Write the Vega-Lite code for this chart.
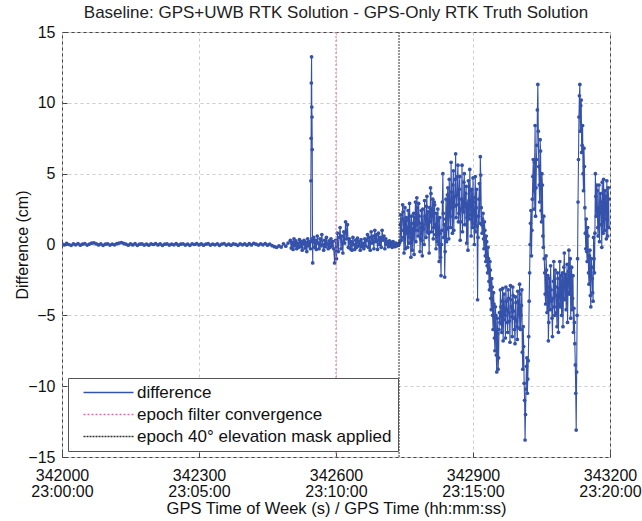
{
"$schema": "https://vega.github.io/schema/vega-lite/v6.json",
"width": 548, "height": 425,
"autosize": {"type": "none"},
"padding": {"left": 62, "top": 32, "right": 32, "bottom": 64},
"background": "white",
"config": {"font": "Liberation Sans", "view": {"stroke": "#444", "strokeWidth": 1}},
"title": {"text": "Baseline: GPS+UWB RTK Solution - GPS-Only RTK Truth Solution", "fontSize": 17, "fontWeight": "normal", "color": "#222", "offset": 2},
"datasets": {
"diff": [
{"t":342000,"d":0.05},{"t":342005,"d":-0.03},{"t":342010,"d":0.08},{"t":342015,"d":0.0},{"t":342020,"d":-0.06},{"t":342025,"d":0.04},{"t":342030,"d":-0.02},{"t":342035,"d":0.07},{"t":342040,"d":-0.05},{"t":342045,"d":0.02},
{"t":342050,"d":0.06},{"t":342055,"d":-0.04},{"t":342060,"d":0.03},{"t":342065,"d":0.09},{"t":342070,"d":0.12},{"t":342075,"d":0.05},{"t":342080,"d":-0.03},{"t":342085,"d":0.04},{"t":342090,"d":-0.06},{"t":342095,"d":0.02},
{"t":342100,"d":0.05},{"t":342105,"d":-0.04},{"t":342110,"d":0.03},{"t":342115,"d":-0.02},{"t":342120,"d":0.06},{"t":342125,"d":0.1},{"t":342130,"d":0.14},{"t":342135,"d":0.08},{"t":342140,"d":0.02},{"t":342145,"d":-0.05},
{"t":342150,"d":0.04},{"t":342155,"d":-0.03},{"t":342160,"d":0.06},{"t":342165,"d":-0.06},{"t":342170,"d":0.02},{"t":342175,"d":0.05},{"t":342180,"d":-0.04},{"t":342185,"d":0.03},{"t":342190,"d":-0.05},{"t":342195,"d":0.04},
{"t":342200,"d":0.0},{"t":342205,"d":0.06},{"t":342210,"d":-0.03},{"t":342215,"d":0.04},{"t":342220,"d":-0.06},{"t":342225,"d":0.02},{"t":342230,"d":0.05},{"t":342235,"d":-0.04},{"t":342240,"d":0.03},{"t":342245,"d":-0.02},
{"t":342250,"d":0.06},{"t":342255,"d":-0.05},{"t":342260,"d":0.02},{"t":342265,"d":0.05},{"t":342270,"d":-0.04},{"t":342275,"d":0.03},{"t":342280,"d":-0.06},{"t":342285,"d":0.04},{"t":342290,"d":0.0},{"t":342295,"d":0.06},
{"t":342300,"d":-0.03},{"t":342305,"d":0.04},{"t":342310,"d":-0.05},{"t":342315,"d":0.02},{"t":342320,"d":0.06},{"t":342325,"d":-0.04},{"t":342330,"d":0.03},{"t":342335,"d":-0.02},{"t":342340,"d":0.05},{"t":342345,"d":-0.06},
{"t":342350,"d":0.03},{"t":342355,"d":0.06},{"t":342360,"d":-0.04},{"t":342365,"d":0.02},{"t":342370,"d":-0.05},{"t":342375,"d":0.04},{"t":342380,"d":0.01},{"t":342385,"d":-0.06},{"t":342390,"d":0.05},{"t":342395,"d":-0.02},
{"t":342400,"d":0.04},{"t":342405,"d":-0.05},{"t":342410,"d":0.06},{"t":342415,"d":-0.03},{"t":342420,"d":0.08},{"t":342425,"d":0.02},{"t":342430,"d":-0.04},{"t":342435,"d":0.05},{"t":342440,"d":-0.02},{"t":342445,"d":0.07},
{"t":342450,"d":-0.05},{"t":342455,"d":0.03},{"t":342460,"d":-0.08},{"t":342465,"d":-0.15},{"t":342470,"d":-0.2},{"t":342475,"d":-0.1},{"t":342480,"d":-0.18},{"t":342485,"d":0.05},{"t":342490,"d":-0.12},{"t":342495,"d":0.1},
{"t":342500,"d":0.3},{"t":342502,"d":-0.25},{"t":342504,"d":0.15},{"t":342506,"d":-0.35},{"t":342508,"d":0.4},{"t":342510,"d":-0.1},{"t":342512,"d":0.25},{"t":342514,"d":-0.3},{"t":342516,"d":0.1},{"t":342518,"d":-0.2},
{"t":342520,"d":0.35},{"t":342522,"d":-0.15},{"t":342524,"d":0.2},{"t":342526,"d":-0.4},{"t":342528,"d":0.05},{"t":342530,"d":0.3},{"t":342532,"d":-0.25},{"t":342534,"d":0.15},{"t":342536,"d":-0.5},{"t":342538,"d":0.4},
{"t":342540,"d":-0.1},{"t":342542,"d":0.2},{"t":342544,"d":-0.3},
{"t":342544.5,"d":0.2},{"t":342545,"d":4.5},{"t":342545.5,"d":7.5},{"t":342546,"d":11.4},{"t":342546.5,"d":13.25},{"t":342547,"d":9.7},{"t":342547.5,"d":9.0},{"t":342548,"d":6.7},{"t":342548.5,"d":0.4},{"t":342549,"d":-1.3},{"t":342549.5,"d":0.2},
{"t":342551,"d":0.5},{"t":342553,"d":-0.2},{"t":342555,"d":0.3},{"t":342557,"d":-0.35},{"t":342559,"d":0.6},{"t":342561,"d":0.1},{"t":342563,"d":-0.3},{"t":342565,"d":0.4},{"t":342567,"d":-0.1},{"t":342569,"d":0.7},
{"t":342571,"d":0.0},{"t":342573,"d":-0.4},{"t":342575,"d":0.3},{"t":342577,"d":-0.15},{"t":342579,"d":0.5},{"t":342581,"d":0.05},{"t":342583,"d":-0.3},{"t":342585,"d":0.25},{"t":342587,"d":-0.2},{"t":342589,"d":0.4},
{"t":342591,"d":-0.1},{"t":342593,"d":0.2},{"t":342595,"d":-0.3},{"t":342597,"d":-1.3},{"t":342599,"d":0.3},{"t":342601,"d":-1.0},{"t":342603,"d":0.8},{"t":342605,"d":-0.5},{"t":342607,"d":0.5},{"t":342609,"d":1.2},
{"t":342611,"d":-0.3},{"t":342613,"d":0.6},{"t":342615,"d":-0.6},{"t":342617,"d":0.9},{"t":342619,"d":0.1},{"t":342621,"d":1.6},{"t":342623,"d":0.4},{"t":342625,"d":1.4},{"t":342627,"d":-0.2},
{"t":342629,"d":0.4},{"t":342631,"d":-0.3},{"t":342633,"d":0.2},{"t":342635,"d":-0.4},{"t":342637,"d":0.5},{"t":342639,"d":0.0},{"t":342641,"d":-0.35},{"t":342643,"d":0.3},{"t":342645,"d":-0.2},{"t":342647,"d":0.45},
{"t":342649,"d":-0.1},{"t":342651,"d":0.2},{"t":342653,"d":-0.4},{"t":342655,"d":0.35},{"t":342657,"d":-0.15},{"t":342659,"d":0.1},{"t":342661,"d":-0.3},{"t":342663,"d":0.4},{"t":342665,"d":-0.1},{"t":342667,"d":0.3},
{"t":342669,"d":0.7},{"t":342671,"d":-0.2},{"t":342673,"d":0.5},{"t":342675,"d":-0.4},{"t":342677,"d":0.9},{"t":342679,"d":0.1},{"t":342681,"d":0.6},{"t":342683,"d":-0.3},{"t":342685,"d":1.0},{"t":342687,"d":0.2},
{"t":342689,"d":0.7},{"t":342691,"d":-0.35},{"t":342693,"d":0.8},{"t":342695,"d":0.0},{"t":342697,"d":0.5},{"t":342699,"d":-0.2},{"t":342701,"d":1.0},{"t":342703,"d":0.3},{"t":342705,"d":0.6},{"t":342707,"d":-0.3},
{"t":342709,"d":0.4},{"t":342711,"d":0.0},{"t":342713,"d":0.2},{"t":342715,"d":-0.15},{"t":342717,"d":0.25},{"t":342719,"d":-0.1},{"t":342721,"d":0.15},{"t":342723,"d":-0.2},{"t":342725,"d":0.2},{"t":342727,"d":0.0},
{"t":342729,"d":-0.15},{"t":342731,"d":0.1},{"t":342733,"d":-0.1},{"t":342735,"d":0.05},{"t":342737,"d":-0.05},{"t":342739,"d":0.1},
{"t":342740,"d":0.2},{"t":342742,"d":2.1},{"t":342744,"d":1.0},{"t":342746,"d":2.8},{"t":342748,"d":0.5},{"t":342750,"d":1.6},{"t":342752,"d":-0.3},{"t":342754,"d":1.9},{"t":342756,"d":0.8},{"t":342758,"d":2.4},
{"t":342760,"d":0.1},{"t":342762,"d":1.3},{"t":342764,"d":-0.9},{"t":342766,"d":1.5},{"t":342768,"d":0.4},{"t":342770,"d":2.2},{"t":342772,"d":1.0},{"t":342774,"d":3.0},{"t":342776,"d":1.4},{"t":342778,"d":2.6},
{"t":342780,"d":0.6},{"t":342782,"d":2.0},{"t":342784,"d":-0.5},{"t":342786,"d":1.2},{"t":342788,"d":0.3},{"t":342790,"d":2.5},{"t":342792,"d":1.1},{"t":342794,"d":3.1},{"t":342796,"d":1.8},{"t":342798,"d":2.7},
{"t":342800,"d":0.9},{"t":342802,"d":2.3},{"t":342804,"d":-0.6},{"t":342806,"d":1.6},{"t":342808,"d":3.6},{"t":342810,"d":2.0},{"t":342812,"d":3.2},{"t":342814,"d":1.2},{"t":342816,"d":2.8},{"t":342818,"d":0.7},
{"t":342820,"d":2.2},{"t":342822,"d":0.2},{"t":342824,"d":1.7},{"t":342826,"d":-1.2},{"t":342828,"d":0.8},{"t":342830,"d":-2.2},
{"t":342832,"d":1.0},{"t":342834,"d":5.0},{"t":342836,"d":0.5},{"t":342838,"d":-2.3},{"t":342840,"d":1.8},{"t":342842,"d":0.2},{"t":342844,"d":3.5},{"t":342846,"d":1.2},{"t":342848,"d":4.6},{"t":342850,"d":2.0},
{"t":342852,"d":5.8},{"t":342854,"d":2.6},{"t":342856,"d":4.2},{"t":342858,"d":1.0},{"t":342860,"d":3.4},{"t":342862,"d":6.4},{"t":342864,"d":2.8},{"t":342866,"d":4.8},{"t":342868,"d":1.6},{"t":342870,"d":3.9},
{"t":342872,"d":0.3},{"t":342874,"d":2.5},{"t":342876,"d":5.6},{"t":342878,"d":3.0},{"t":342880,"d":4.4},{"t":342882,"d":1.4},{"t":342884,"d":3.6},{"t":342886,"d":0.1},{"t":342888,"d":2.9},{"t":342890,"d":4.5},
{"t":342892,"d":1.8},{"t":342894,"d":3.8},{"t":342896,"d":0.6},{"t":342898,"d":2.4},{"t":342900,"d":4.7},{"t":342902,"d":1.5},{"t":342904,"d":3.3},{"t":342906,"d":0.9},{"t":342908,"d":3.9},{"t":342910,"d":-3.9},
{"t":342912,"d":2.0},{"t":342914,"d":4.3},{"t":342916,"d":6.2},{"t":342918,"d":2.6},
{"t":342920,"d":0.8},{"t":342922,"d":2.2},{"t":342924,"d":-0.3},{"t":342926,"d":1.0},{"t":342928,"d":-1.2},{"t":342930,"d":0.2},{"t":342932,"d":-2.0},{"t":342934,"d":-1.0},{"t":342936,"d":-3.2},{"t":342938,"d":-1.8},
{"t":342940,"d":-4.6},{"t":342942,"d":-3.0},{"t":342944,"d":-6.0},{"t":342946,"d":-4.2},{"t":342948,"d":-7.5},{"t":342950,"d":-5.0},{"t":342952,"d":-9.0},{"t":342954,"d":-6.3},{"t":342956,"d":-8.0},{"t":342958,"d":-4.8},
{"t":342960,"d":-3.2},{"t":342962,"d":-5.6},{"t":342964,"d":-4.0},{"t":342966,"d":-6.8},{"t":342968,"d":-3.5},{"t":342970,"d":-5.0},{"t":342972,"d":-3.0},{"t":342974,"d":-4.6},{"t":342976,"d":-6.2},{"t":342978,"d":-3.8},
{"t":342980,"d":-5.4},{"t":342982,"d":-2.9},{"t":342984,"d":-4.4},{"t":342986,"d":-6.5},{"t":342988,"d":-3.6},{"t":342990,"d":-5.2},{"t":342992,"d":-7.0},{"t":342994,"d":-4.1},{"t":342996,"d":-5.8},{"t":342998,"d":-3.3},
{"t":343000,"d":-4.9},{"t":343002,"d":-2.8},{"t":343004,"d":-6.0},{"t":343006,"d":-4.3},{"t":343008,"d":-7.6},
{"t":343010,"d":-5.8},{"t":343012,"d":-9.8},{"t":343014,"d":-13.8},{"t":343016,"d":-10.2},{"t":343018,"d":-8.0},{"t":343020,"d":-9.5},
{"t":343022,"d":-6.5},{"t":343024,"d":-2.0},{"t":343026,"d":1.5},{"t":343028,"d":-0.8},{"t":343030,"d":3.2},{"t":343032,"d":6.0},{"t":343034,"d":2.5},{"t":343036,"d":8.4},{"t":343038,"d":4.0},{"t":343040,"d":7.0},
{"t":343042,"d":11.3},{"t":343044,"d":5.5},{"t":343046,"d":3.0},{"t":343048,"d":6.6},{"t":343050,"d":1.6},{"t":343052,"d":4.2},{"t":343054,"d":-0.2},
{"t":343056,"d":-1.0},{"t":343058,"d":-3.5},{"t":343060,"d":-0.8},{"t":343062,"d":-4.8},{"t":343064,"d":-2.2},{"t":343066,"d":-5.5},{"t":343068,"d":-3.0},{"t":343070,"d":-1.5},{"t":343072,"d":-4.0},{"t":343074,"d":-6.5},
{"t":343076,"d":-2.6},{"t":343078,"d":-4.4},{"t":343080,"d":-1.8},{"t":343082,"d":-3.6},{"t":343084,"d":-5.8},{"t":343086,"d":-2.4},{"t":343088,"d":-4.2},{"t":343090,"d":-1.2},{"t":343092,"d":-3.2},{"t":343094,"d":-5.0},
{"t":343096,"d":-2.0},{"t":343098,"d":-3.8},{"t":343100,"d":-0.6},{"t":343102,"d":-2.8},{"t":343104,"d":-4.6},{"t":343106,"d":-1.4},{"t":343108,"d":-3.4},{"t":343110,"d":-0.4},{"t":343112,"d":-2.6},{"t":343114,"d":-5.2},
{"t":343116,"d":-1.6},{"t":343118,"d":-3.8},{"t":343120,"d":-6.2},
{"t":343122,"d":-5.5},{"t":343124,"d":-8.5},{"t":343126,"d":-13.1},{"t":343128,"d":-5.0},{"t":343130,"d":3.0},{"t":343132,"d":9.0},{"t":343134,"d":11.3},{"t":343136,"d":9.8},{"t":343138,"d":6.5},{"t":343140,"d":8.4},
{"t":343142,"d":3.8},{"t":343144,"d":5.5},{"t":343146,"d":0.8},
{"t":343148,"d":1.8},{"t":343150,"d":-1.2},{"t":343152,"d":0.6},{"t":343154,"d":-2.8},{"t":343156,"d":-0.4},{"t":343158,"d":-4.4},{"t":343160,"d":-1.6},{"t":343162,"d":-3.4},{"t":343164,"d":0.5},{"t":343166,"d":-2.0},
{"t":343168,"d":5.0},{"t":343170,"d":2.0},{"t":343172,"d":3.8},{"t":343174,"d":0.6},{"t":343176,"d":4.2},{"t":343178,"d":1.4},{"t":343180,"d":3.0},{"t":343182,"d":-0.2},{"t":343184,"d":2.6},{"t":343186,"d":4.6},
{"t":343188,"d":1.0},{"t":343190,"d":3.4},{"t":343192,"d":0.4},{"t":343194,"d":2.8},{"t":343196,"d":4.0},{"t":343198,"d":1.2},
{"t":342741,"d":1.4},{"t":342743,"d":0.3},{"t":342745,"d":1.8},{"t":342747,"d":2.3},{"t":342749,"d":-0.6},{"t":342751,"d":2.6},{"t":342753,"d":0.9},{"t":342755,"d":1.2},{"t":342757,"d":-0.2},{"t":342759,"d":1.7},
{"t":342761,"d":2.9},{"t":342763,"d":0.5},{"t":342765,"d":2.0},{"t":342767,"d":-0.4},{"t":342769,"d":1.1},{"t":342771,"d":-0.7},{"t":342773,"d":1.9},{"t":342775,"d":0.2},{"t":342777,"d":3.3},{"t":342779,"d":1.0},
{"t":342781,"d":2.9},{"t":342783,"d":1.5},{"t":342785,"d":0.4},{"t":342787,"d":2.4},{"t":342789,"d":-0.8},{"t":342791,"d":1.4},{"t":342793,"d":0.0},{"t":342795,"d":2.0},{"t":342797,"d":0.5},{"t":342799,"d":3.4},
{"t":342801,"d":1.5},{"t":342803,"d":0.8},{"t":342805,"d":2.6},{"t":342807,"d":4.0},{"t":342809,"d":0.9},{"t":342811,"d":2.5},{"t":342813,"d":0.4},{"t":342815,"d":3.0},{"t":342817,"d":1.4},{"t":342819,"d":-0.3},
{"t":342821,"d":1.2},{"t":342823,"d":2.5},{"t":342825,"d":0.0},{"t":342827,"d":1.9},{"t":342829,"d":-0.9},
{"t":342831,"d":0.0},{"t":342833,"d":3.0},{"t":342835,"d":2.2},{"t":342837,"d":1.4},{"t":342839,"d":-0.5},{"t":342841,"d":3.2},{"t":342843,"d":1.1},{"t":342845,"d":4.0},{"t":342847,"d":0.4},{"t":342849,"d":3.1},
{"t":342851,"d":1.2},{"t":342853,"d":3.7},{"t":342855,"d":0.8},{"t":342857,"d":5.2},{"t":342859,"d":2.7},{"t":342861,"d":4.6},{"t":342863,"d":1.9},{"t":342865,"d":3.5},{"t":342867,"d":5.6},{"t":342869,"d":2.2},
{"t":342871,"d":4.8},{"t":342873,"d":1.6},{"t":342875,"d":3.2},{"t":342877,"d":0.9},{"t":342879,"d":2.3},{"t":342881,"d":5.0},{"t":342883,"d":2.7},{"t":342885,"d":4.1},{"t":342887,"d":1.9},{"t":342889,"d":-0.4},
{"t":342891,"d":3.1},{"t":342893,"d":5.3},{"t":342895,"d":2.1},{"t":342897,"d":3.9},{"t":342899,"d":1.2},{"t":342901,"d":3.0},{"t":342903,"d":0.0},{"t":342905,"d":4.8},{"t":342907,"d":2.6},{"t":342909,"d":1.3},
{"t":342911,"d":0.5},{"t":342913,"d":3.2},{"t":342915,"d":1.5},{"t":342917,"d":4.9},{"t":342919,"d":1.4},
{"t":342921,"d":1.8},{"t":342923,"d":0.4},{"t":342925,"d":1.6},{"t":342927,"d":-0.8},{"t":342929,"d":0.6},{"t":342931,"d":-1.5},{"t":342933,"d":-0.2},{"t":342935,"d":-2.6},{"t":342937,"d":-1.2},{"t":342939,"d":-3.8},
{"t":342941,"d":-2.4},{"t":342943,"d":-5.0},{"t":342945,"d":-3.4},{"t":342947,"d":-6.6},{"t":342949,"d":-4.4},{"t":342951,"d":-7.8},{"t":342953,"d":-5.2},{"t":342955,"d":-8.8},{"t":342957,"d":-6.0},{"t":342959,"d":-5.5},
{"t":342961,"d":-4.4},{"t":342963,"d":-6.2},{"t":342965,"d":-3.1},{"t":342967,"d":-5.3},{"t":342969,"d":-4.5},{"t":342971,"d":-6.6},{"t":342973,"d":-4.0},{"t":342975,"d":-5.5},{"t":342977,"d":-3.2},{"t":342979,"d":-4.8},
{"t":342981,"d":-6.9},{"t":342983,"d":-3.9},{"t":342985,"d":-5.1},{"t":342987,"d":-3.0},{"t":342989,"d":-4.7},{"t":342991,"d":-6.0},{"t":342993,"d":-3.7},{"t":342995,"d":-5.4},{"t":342997,"d":-6.7},{"t":342999,"d":-4.0},
{"t":343001,"d":-5.9},{"t":343003,"d":-3.5},{"t":343005,"d":-5.0},{"t":343007,"d":-3.2},{"t":343009,"d":-8.8},
{"t":343011,"d":-7.2},{"t":343013,"d":-11.0},{"t":343015,"d":-12.0},{"t":343017,"d":-8.6},{"t":343019,"d":-10.5},{"t":343021,"d":-8.2},
{"t":343023,"d":-4.0},{"t":343025,"d":0.0},{"t":343027,"d":2.4},{"t":343029,"d":1.0},{"t":343031,"d":4.8},{"t":343033,"d":3.8},{"t":343035,"d":5.8},{"t":343037,"d":2.0},{"t":343039,"d":6.0},{"t":343041,"d":9.5},
{"t":343043,"d":8.0},{"t":343045,"d":4.2},{"t":343047,"d":7.4},{"t":343049,"d":2.4},{"t":343051,"d":5.0},{"t":343053,"d":0.6},{"t":343055,"d":2.0},
{"t":343057,"d":-2.0},{"t":343059,"d":-4.2},{"t":343061,"d":-1.8},{"t":343063,"d":-3.4},{"t":343065,"d":-6.8},{"t":343067,"d":-2.4},{"t":343069,"d":-4.6},{"t":343071,"d":-3.2},{"t":343073,"d":-5.2},{"t":343075,"d":-3.8},
{"t":343077,"d":-1.2},{"t":343079,"d":-5.0},{"t":343081,"d":-3.0},{"t":343083,"d":-4.8},{"t":343085,"d":-2.0},{"t":343087,"d":-6.2},{"t":343089,"d":-3.1},{"t":343091,"d":-4.4},{"t":343093,"d":-2.2},{"t":343095,"d":-3.6},
{"t":343097,"d":-5.8},{"t":343099,"d":-1.6},{"t":343101,"d":-3.9},{"t":343103,"d":-2.1},{"t":343105,"d":-3.0},{"t":343107,"d":-5.5},{"t":343109,"d":-1.9},{"t":343111,"d":-3.5},{"t":343113,"d":-1.0},{"t":343115,"d":-3.0},
{"t":343117,"d":-4.6},{"t":343119,"d":-2.2},{"t":343121,"d":-4.5},
{"t":343123,"d":-7.0},{"t":343125,"d":-10.5},{"t":343127,"d":-9.0},{"t":343129,"d":-1.0},{"t":343131,"d":6.0},{"t":343133,"d":10.5},{"t":343135,"d":8.0},{"t":343137,"d":10.2},{"t":343139,"d":7.0},{"t":343141,"d":5.0},
{"t":343143,"d":6.8},{"t":343145,"d":2.6},{"t":343147,"d":-0.3},
{"t":343149,"d":-0.5},{"t":343151,"d":1.2},{"t":343153,"d":-2.0},{"t":343155,"d":-0.8},{"t":343157,"d":-3.6},{"t":343159,"d":-1.0},{"t":343161,"d":-2.4},{"t":343163,"d":-4.0},{"t":343165,"d":-1.0},{"t":343167,"d":0.8},
{"t":343169,"d":3.4},{"t":343171,"d":4.2},{"t":343173,"d":1.2},{"t":343175,"d":2.6},{"t":343177,"d":0.2},{"t":343179,"d":3.6},{"t":343181,"d":2.2},{"t":343183,"d":4.4},{"t":343185,"d":0.8},{"t":343187,"d":2.2},
{"t":343189,"d":3.8},{"t":343191,"d":1.8},{"t":343193,"d":4.5},{"t":343195,"d":0.6},{"t":343197,"d":3.2}
],
"events": [{"t":342600,"s":"epoch filter convergence"},{"t":342738,"s":"epoch 40° elevation mask applied"}]
},
"layer": [
{"data": {"name": "diff"},
 "mark": {"type": "line", "strokeWidth": 1.1, "clip": true, "point": {"filled": true, "size": 14}},
 "encoding": {
  "x": {"field": "t", "type": "quantitative",
        "scale": {"domain": [342000, 343200], "nice": false, "zero": false},
        "axis": {"values": [342000, 342300, 342600, 342900, 343200],
                 "labelExpr": "[format(datum.value, 'd'), '23:' + format(floor((datum.value - 342000) / 60), '02d') + ':00']",
                 "grid": true, "gridDash": [3, 3], "gridColor": "#cccccc", "domain": false,
                 "tickSize": -5, "tickColor": "#444", "labelFontSize": 16, "labelColor": "#111", "labelLineHeight": 16,
                 "labelPadding": 15, "labelFlush": false,
                 "titleFontSize": 16.5, "titleFontWeight": "normal", "titleColor": "#111", "titlePadding": 1},
        "title": "GPS Time of Week (s) / GPS Time (hh:mm:ss)"},
  "y": {"field": "d", "type": "quantitative",
        "scale": {"domain": [-15, 15], "nice": false},
        "axis": {"values": [-15, -10, -5, 0, 5, 10, 15], "grid": true, "gridDash": [3, 3], "gridColor": "#cccccc", "domain": false,
                 "tickSize": -5, "tickColor": "#444", "labelFontSize": 16, "labelColor": "#111", "labelPadding": 12,
                 "titleFontSize": 16, "titleFontWeight": "normal", "titleColor": "#111", "titlePadding": -3},
        "title": "Difference (cm)"},
  "color": {"datum": "difference", "type": "nominal",
            "scale": {"domain": ["difference", "epoch filter convergence", "epoch 40° elevation mask applied"], "range": ["#3552ab", "#e46aa8", "#333333"]},
            "legend": {"orient": "bottom-left", "offset": 6, "title": null, "symbolType": "M-25,0H25", "symbolSize": 4, "symbolStrokeWidth": 1.3,
                       "symbolOffset": 26, "labelOffset": 20,
                       "labelFontSize": 17, "labelColor": "#111", "strokeColor": "#555", "fillColor": "white", "padding": 6, "rowPadding": 4,
                       "labelLimit": 400}},
  "strokeDash": {"datum": "difference", "type": "nominal",
            "scale": {"domain": ["difference", "epoch filter convergence", "epoch 40° elevation mask applied"], "range": [[1, 0], [2, 2], [2, 1]]}}
 }},
{"data": {"name": "events"},
 "mark": {"type": "rule", "strokeWidth": 1},
 "encoding": {
  "x": {"field": "t", "type": "quantitative"},
  "color": {"field": "s", "type": "nominal", "title": null},
  "strokeDash": {"field": "s", "type": "nominal", "title": null}
 }}
]
}
